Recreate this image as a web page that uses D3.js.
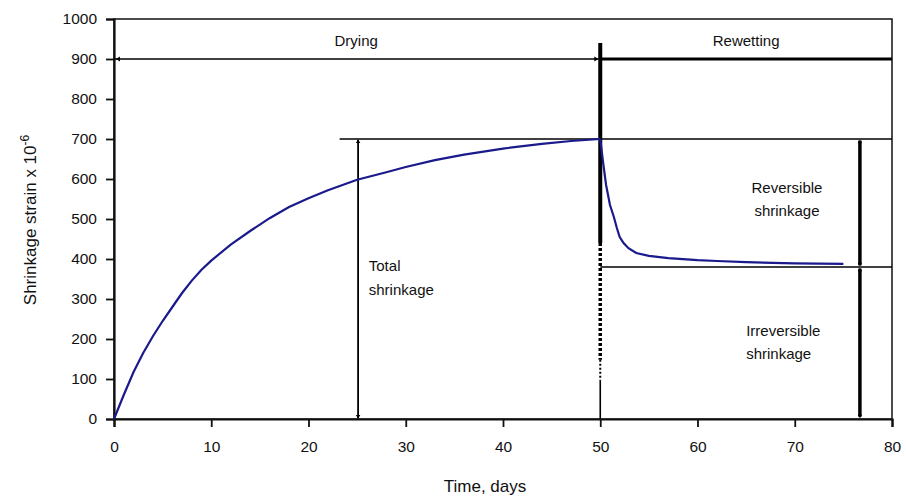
<!DOCTYPE html>
<html lang="en">
<head>
<meta charset="UTF-8">
<title>Shrinkage strain</title>
<script src="https://cdn.jsdelivr.net/npm/d3@7"></script>
<style>
  body { margin: 0; background: #fff; }
  text { font-family: "Liberation Sans", Arial, sans-serif; fill: #111; }
</style>
</head>
<body>
<svg id="chart" width="906" height="498"></svg>
<script>
// drying phase (days, strain x 1e-6)
var dryDays   = [0, 1, 2, 3, 4, 5, 6, 7, 8, 9, 10, 12, 14, 16, 18, 20, 22, 25, 28, 30, 33, 36, 40, 44, 47, 50];
var dryStrain = [0, 60, 117, 165, 207, 245, 280, 315, 346, 373, 396, 436, 470, 502, 530, 552, 572, 598, 617, 630, 647, 661, 676, 688, 695, 700];
// rewetting phase
var wetDays   = [50, 50.3, 50.6, 51, 51.4, 51.7, 52, 52.4, 52.9, 53.7, 55, 57, 60, 62, 65, 70, 75];
var wetStrain = [700, 640, 585, 535, 505, 478, 455, 440, 427, 415, 408, 402, 397, 395, 392, 389, 388];
var xTicks = [0, 10, 20, 30, 40, 50, 60, 70, 80];
var yTicks = [0, 100, 200, 300, 400, 500, 600, 700, 800, 900, 1000];

var margin = {left: 114, top: 19, right: 14, bottom: 79};
var svg = d3.select('#chart');
var W = 906 - margin.left - margin.right,
    H = 498 - margin.top - margin.bottom;
var g = svg.append('g').attr('transform', 'translate(' + margin.left + ',' + margin.top + ')');

var x = d3.scaleLinear().domain([0, 80]).range([0, W]);
var y = d3.scaleLinear().domain([0, 1000]).range([H, 0]);

// frame
g.append('rect').attr('width', W).attr('height', H)
    .attr('fill', 'none').attr('stroke', '#111').attr('stroke-width', 1.5);

var xAxis = g.append('g').attr('transform', 'translate(0,' + H + ')')
    .call(d3.axisBottom(x).tickValues(xTicks).tickSize(8).tickPadding(14).tickFormat(d3.format('d')));
var yAxis = g.append('g')
    .call(d3.axisLeft(y).tickValues(yTicks).tickSize(8).tickPadding(9).tickFormat(d3.format('d')));
[xAxis, yAxis].forEach(function (a) {
    a.select('.domain').attr('stroke', '#111').attr('stroke-width', 2.2);
    a.selectAll('.tick line').attr('stroke', '#111').attr('stroke-width', 1.8);
    a.selectAll('.tick text').style('font-size', '15.5px').attr('fill', '#111')
        .style('font-family', '"Liberation Sans", Arial, sans-serif');
});

// axis titles
svg.append('text').attr('x', margin.left + W / 2 - 18).attr('y', 492)
    .attr('text-anchor', 'middle').style('font-size', '17px').text('Time, days');
var yt = svg.append('text').attr('transform', 'translate(36,' + 220 + ') rotate(-90)')
    .attr('text-anchor', 'middle').style('font-size', '17px');
yt.append('tspan').text('Shrinkage strain x 10');
yt.append('tspan').attr('dy', -7).style('font-size', '12px').text('-6');

function seg(x1, y1, x2, y2, w, dash) {
    var l = g.append('line')
        .attr('x1', x(x1)).attr('y1', y(y1)).attr('x2', x(x2)).attr('y2', y(y2))
        .attr('stroke', '#000').attr('stroke-width', w);
    if (dash) l.attr('stroke-dasharray', dash);
    return l;
}

// small arrow tip
function tip(xv, yv, dir, s) {
    var px = x(xv), py = y(yv), p;
    if (dir === 'up') p = [[px, py], [px - s, py + s * 1.6], [px + s, py + s * 1.6]];
    else if (dir === 'down') p = [[px, py], [px - s, py - s * 1.6], [px + s, py - s * 1.6]];
    else if (dir === 'left') p = [[px, py], [px + s * 1.6, py - s], [px + s * 1.6, py + s]];
    else p = [[px, py], [px - s * 1.6, py - s], [px - s * 1.6, py + s]];
    g.append('path').attr('d', d3.line()(p) + 'Z').attr('fill', '#000');
}

// drying / rewetting band
seg(0, 900, 50, 900, 1.6);
seg(50, 900, 80, 900, 3.2);
tip(0.2, 900, 'left', 2.5);
tip(49.8, 900, 'right', 2.5);

// vertical divider at day 50
seg(50, 940, 50, 440, 4);
seg(50, 440, 50, 148, 3.5, '3,2');
seg(50, 148, 50, 97, 2, '2,2');
seg(50, 97, 50, 0, 1.6);

// reference lines
seg(23.2, 700, 80, 700, 1.6);
seg(50, 380, 80, 380, 1.6);

// total shrinkage arrow
seg(25.1, 698, 25.1, 2, 1.8);
tip(25.1, 699, 'up', 2.2);
tip(25.1, 1, 'down', 2.2);

// reversible / irreversible arrows
seg(76.7, 696, 76.7, 384, 3.5);
tip(76.7, 698, 'up', 2.2);
tip(76.7, 382, 'down', 2.2);
seg(76.7, 376, 76.7, 6, 3.5);
tip(76.7, 378, 'up', 2.2);
tip(76.7, 2, 'down', 2.2);

// curves
var line = d3.line().x(function (d) { return x(d[0]); }).y(function (d) { return y(d[1]); });
g.append('path').datum(d3.zip(dryDays, dryStrain))
    .attr('d', line).attr('fill', 'none').attr('stroke', '#1a1a8c').attr('stroke-width', 2.2);
g.append('path').datum(d3.zip(wetDays, wetStrain))
    .attr('d', line).attr('fill', 'none').attr('stroke', '#1a1a8c').attr('stroke-width', 2.2);

// labels
function label(txt, xv, yv, anchor) {
    g.append('text').attr('x', x(xv)).attr('y', y(yv)).attr('text-anchor', anchor || 'start')
        .style('font-size', '15px').text(txt);
}
label('Drying', 24.9, 932, 'middle');
label('Rewetting', 65, 932, 'middle');
label('Total', 26.2, 370);
label('shrinkage', 26.2, 310);
label('Reversible', 69.2, 565, 'middle');
label('shrinkage', 69.2, 508, 'middle');
label('Irreversible', 65, 208);
label('shrinkage', 65, 150);
</script>
</body>
</html>
